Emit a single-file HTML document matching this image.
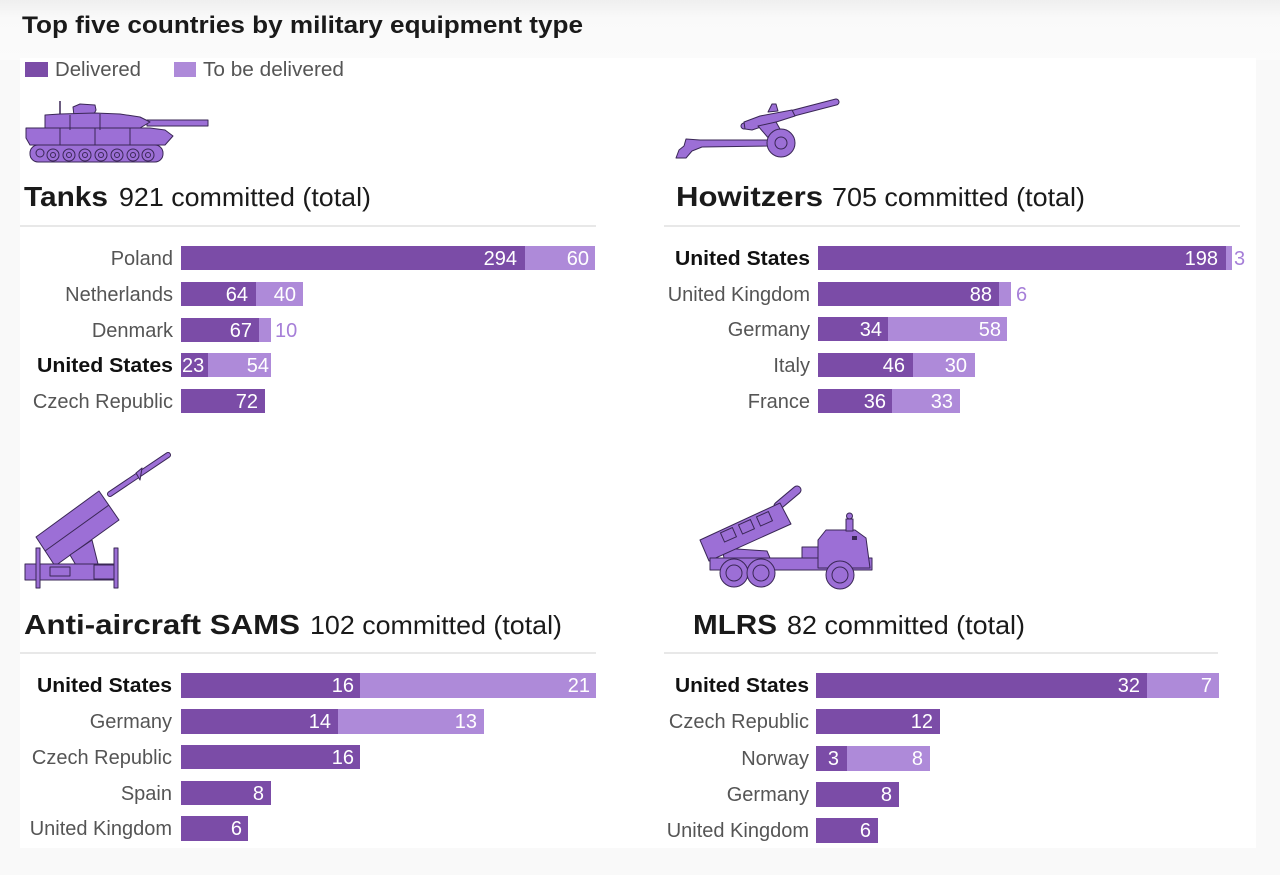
<!DOCTYPE html>
<html>
<head>
<meta charset="utf-8">
<style>
html,body{margin:0;padding:0;background:#f9f9f9;}
svg{display:block;}
text{font-family:"Liberation Sans",Arial,sans-serif;}
.lbl{font-size:20px;fill:#555;text-anchor:end;}
.lblb{font-size:20px;font-weight:bold;fill:#111;text-anchor:end;}
.v{font-size:20px;fill:#fff;text-anchor:end;}
.vo{font-size:20px;fill:#a67fd8;}
.h1{font-size:28px;font-weight:bold;fill:#1a1a1a;}
.h2{font-size:26px;fill:#1a1a1a;}
.d{fill:#7b4ca7;}
.l{fill:#ae8ad9;}
.ic{fill:#9c6fd6;stroke:#3a2756;stroke-width:1;stroke-linejoin:round;}
.icl{fill:none;stroke:#3a2756;stroke-width:1;}
</style>
</head>
<body>
<svg width="1280" height="875" viewBox="0 0 1280 875" xmlns="http://www.w3.org/2000/svg">
<defs>
<linearGradient id="tg" x1="0" y1="0" x2="0" y2="1">
<stop offset="0" stop-color="#efefef"/>
<stop offset="0.3" stop-color="#f9f9f9"/>
<stop offset="1" stop-color="#fbfbfb"/>
</linearGradient>
</defs>
<rect x="0" y="0" width="1280" height="875" fill="#f9f9f9"/>
<rect x="0" y="0" width="1280" height="60" fill="url(#tg)"/>
<rect x="20" y="58" width="1236" height="790" fill="#ffffff"/>

<!-- Title -->
<text x="22" y="33" font-size="24" font-weight="bold" fill="#1a1a1a" textLength="561" lengthAdjust="spacingAndGlyphs">Top five countries by military equipment type</text>

<!-- Legend -->
<rect x="25" y="62" width="23" height="15" class="d"/>
<text x="55" y="76" font-size="20" fill="#555" textLength="86" lengthAdjust="spacingAndGlyphs">Delivered</text>
<rect x="174" y="62" width="22" height="15" class="l"/>
<text x="203" y="76" font-size="20" fill="#555" textLength="141" lengthAdjust="spacingAndGlyphs">To be delivered</text>

<!-- ===== TANK ICON ===== -->
<g>
<line x1="60" y1="101" x2="60" y2="118" stroke="#3a2756" stroke-width="1.5"/>
<rect x="147" y="120" width="61" height="6" class="ic"/>
<polygon class="ic" points="73,107 80,104 95,105 96,110 93,116 74,116"/>
<polygon class="ic" points="45,115 60,114 95,113 120,114 140,117 150,122 140,128 125,130 45,130"/>
<polygon class="ic" points="26,128 150,128 165,130 173,136 165,145 30,145 26,138"/>
<rect x="30" y="145" width="133" height="17" rx="8" class="ic"/>
<g class="ic">
<circle cx="40" cy="153" r="4"/>
<circle cx="53" cy="155" r="6"/>
<circle cx="69" cy="155" r="6"/>
<circle cx="85" cy="155" r="6"/>
<circle cx="101" cy="155" r="6"/>
<circle cx="117" cy="155" r="6"/>
<circle cx="133" cy="155" r="6"/>
<circle cx="148" cy="155" r="6"/>
</g>
<g class="icl">
<circle cx="53" cy="155" r="2.5"/><circle cx="69" cy="155" r="2.5"/><circle cx="85" cy="155" r="2.5"/><circle cx="101" cy="155" r="2.5"/><circle cx="117" cy="155" r="2.5"/><circle cx="133" cy="155" r="2.5"/><circle cx="148" cy="155" r="2.5"/>
<line x1="70" y1="115" x2="70" y2="130"/><line x1="100" y1="114" x2="100" y2="130"/>
<line x1="60" y1="128" x2="60" y2="145"/><line x1="95" y1="128" x2="95" y2="145"/><line x1="130" y1="128" x2="130" y2="145"/>
</g>
</g>

<!-- Tanks heading -->
<text x="24" y="206" class="h1" textLength="84" lengthAdjust="spacingAndGlyphs">Tanks</text>
<text x="119" y="206" class="h2" textLength="252" lengthAdjust="spacingAndGlyphs">921 committed (total)</text>
<rect x="20" y="225" width="576" height="2" fill="#e8e8e8"/>

<!-- Tanks bars -->
<text x="173" y="265" class="lbl">Poland</text>
<rect x="181" y="246" width="344" height="24" class="d"/><rect x="525" y="246" width="70" height="24" class="l"/>
<text x="517" y="265" class="v">294</text><text x="589" y="265" class="v">60</text>

<text x="173" y="301" class="lbl">Netherlands</text>
<rect x="181" y="282" width="75" height="24" class="d"/><rect x="256" y="282" width="47" height="24" class="l"/>
<text x="248" y="301" class="v">64</text><text x="296" y="301" class="v">40</text>

<text x="173" y="337" class="lbl">Denmark</text>
<rect x="181" y="318" width="78" height="24" class="d"/><rect x="259" y="318" width="12" height="24" class="l"/>
<text x="252" y="337" class="v">67</text><text x="275" y="337" class="vo">10</text>

<text x="173" y="372" class="lblb" textLength="136" lengthAdjust="spacingAndGlyphs">United States</text>
<rect x="181" y="353" width="27" height="24" class="d"/><rect x="208" y="353" width="63" height="24" class="l"/>
<text x="182" y="372" class="v" style="text-anchor:start">23</text><text x="269" y="372" class="v">54</text>

<text x="173" y="408" class="lbl">Czech Republic</text>
<rect x="181" y="389" width="84" height="24" class="d"/>
<text x="258" y="408" class="v">72</text>

<!-- ===== HOWITZER ICON ===== -->
<g>
<polygon class="ic" points="676,158 679,150 684,146 686,139 700,140 768,140 768,146 702,147 692,151 686,158"/>
<line x1="744" y1="126" x2="836" y2="102" stroke="#3a2756" stroke-width="7" stroke-linecap="round"/>
<line x1="744" y1="126" x2="836" y2="102" stroke="#9c6fd6" stroke-width="5" stroke-linecap="round"/>
<polygon class="ic" points="744,122 760,116 792,110 795,116 770,124 752,130 745,129"/>
<polygon class="ic" points="768,112 772,104 776,104 778,111"/>
<polygon class="ic" points="758,126 776,122 784,136 770,140"/>
<circle cx="781" cy="143" r="14" class="ic"/>
<circle cx="781" cy="143" r="6" class="icl"/>
</g>

<!-- Howitzers heading -->
<text x="676" y="206" class="h1" textLength="147" lengthAdjust="spacingAndGlyphs">Howitzers</text>
<text x="832" y="206" class="h2" textLength="253" lengthAdjust="spacingAndGlyphs">705 committed (total)</text>
<rect x="664" y="225" width="576" height="2" fill="#e8e8e8"/>

<!-- Howitzers bars -->
<text x="810" y="265" class="lblb" textLength="135" lengthAdjust="spacingAndGlyphs">United States</text>
<rect x="818" y="246" width="408" height="24" class="d"/><rect x="1226" y="246" width="6" height="24" class="l"/>
<text x="1218" y="265" class="v">198</text><text x="1234" y="265" class="vo">3</text>

<text x="810" y="301" class="lbl">United Kingdom</text>
<rect x="818" y="282" width="181" height="24" class="d"/><rect x="999" y="282" width="12" height="24" class="l"/>
<text x="992" y="301" class="v">88</text><text x="1016" y="301" class="vo">6</text>

<text x="810" y="336" class="lbl">Germany</text>
<rect x="818" y="317" width="70" height="24" class="d"/><rect x="888" y="317" width="119" height="24" class="l"/>
<text x="882" y="336" class="v">34</text><text x="1001" y="336" class="v">58</text>

<text x="810" y="372" class="lbl">Italy</text>
<rect x="818" y="353" width="95" height="24" class="d"/><rect x="913" y="353" width="62" height="24" class="l"/>
<text x="905" y="372" class="v">46</text><text x="967" y="372" class="v">30</text>

<text x="810" y="408" class="lbl">France</text>
<rect x="818" y="389" width="74" height="24" class="d"/><rect x="892" y="389" width="68" height="24" class="l"/>
<text x="886" y="408" class="v">36</text><text x="953" y="408" class="v">33</text>

<!-- ===== SAM ICON ===== -->
<g>
<line x1="110" y1="494" x2="168" y2="455" stroke="#3a2756" stroke-width="6" stroke-linecap="round"/>
<line x1="110" y1="494" x2="168" y2="455" stroke="#9c6fd6" stroke-width="4" stroke-linecap="round"/>
<polygon class="ic" points="136,473 142,468 140,480"/>
<polygon class="ic" points="36,537 99,491 119,520 55,566"/>
<line x1="45" y1="551" x2="109" y2="505" stroke="#3a2756" stroke-width="1"/>
<polygon class="ic" points="70,555 92,540 100,572 80,572"/>
<rect x="25" y="564" width="93" height="16" class="ic"/>
<rect x="50" y="567" width="20" height="9" class="ic"/>
<rect x="94" y="565" width="20" height="14" class="ic"/>
<rect x="36" y="548" width="4" height="40" class="ic"/>
<rect x="114" y="548" width="4" height="40" class="ic"/>
</g>

<!-- SAMS heading -->
<text x="24" y="634" class="h1" textLength="276" lengthAdjust="spacingAndGlyphs">Anti-aircraft SAMS</text>
<text x="310" y="634" class="h2" textLength="252" lengthAdjust="spacingAndGlyphs">102 committed (total)</text>
<rect x="20" y="652" width="576" height="2" fill="#e8e8e8"/>

<!-- SAMS bars -->
<text x="172" y="692" class="lblb" textLength="135" lengthAdjust="spacingAndGlyphs">United States</text>
<rect x="181" y="673" width="179" height="25" class="d"/><rect x="360" y="673" width="236" height="25" class="l"/>
<text x="354" y="692" class="v">16</text><text x="590" y="692" class="v">21</text>

<text x="172" y="728" class="lbl">Germany</text>
<rect x="181" y="709" width="157" height="25" class="d"/><rect x="338" y="709" width="146" height="25" class="l"/>
<text x="331" y="728" class="v">14</text><text x="477" y="728" class="v">13</text>

<text x="172" y="764" class="lbl">Czech Republic</text>
<rect x="181" y="745" width="179" height="24" class="d"/>
<text x="354" y="764" class="v">16</text>

<text x="172" y="800" class="lbl">Spain</text>
<rect x="181" y="781" width="90" height="24" class="d"/>
<text x="264" y="800" class="v">8</text>

<text x="172" y="835" class="lbl">United Kingdom</text>
<rect x="181" y="816" width="67" height="25" class="d"/>
<text x="242" y="835" class="v">6</text>

<!-- ===== MLRS ICON ===== -->
<g>
<polygon class="ic" points="722,548 767,551 770,558 724,558"/>
<line x1="778" y1="506" x2="797" y2="490" stroke="#3a2756" stroke-width="9" stroke-linecap="round"/>
<line x1="778" y1="506" x2="797" y2="490" stroke="#9c6fd6" stroke-width="7" stroke-linecap="round"/>
<polygon class="ic" points="700,540 780,503 791,524 709,561"/>
<g class="icl">
<rect x="722" y="530" width="13" height="10" transform="rotate(-24 728 535)"/>
<rect x="740" y="522" width="13" height="10" transform="rotate(-24 746 527)"/>
<rect x="758" y="514" width="13" height="10" transform="rotate(-24 764 519)"/>
</g>
<rect x="710" y="558" width="162" height="12" class="ic"/>
<polygon class="ic" points="818,540 826,530 855,530 866,538 870,568 818,568"/>
<rect x="802" y="547" width="16" height="11" class="ic"/>
<rect x="852" y="536" width="5" height="4" fill="#3a2756"/>
<rect x="846" y="519" width="7" height="12" class="ic"/>
<circle cx="849.5" cy="516" r="3" class="ic"/>
<circle cx="734" cy="573" r="14" class="ic"/>
<circle cx="761" cy="573" r="14" class="ic"/>
<circle cx="840" cy="575" r="14" class="ic"/>
<g class="icl">
<circle cx="734" cy="573" r="8"/><circle cx="761" cy="573" r="8"/><circle cx="840" cy="575" r="8"/>
</g>
</g>

<!-- MLRS heading -->
<text x="693" y="634" class="h1" textLength="84" lengthAdjust="spacingAndGlyphs">MLRS</text>
<text x="787" y="634" class="h2" textLength="238" lengthAdjust="spacingAndGlyphs">82 committed (total)</text>
<rect x="664" y="652" width="554" height="2" fill="#e8e8e8"/>

<!-- MLRS bars -->
<text x="809" y="692" class="lblb" textLength="134" lengthAdjust="spacingAndGlyphs">United States</text>
<rect x="816" y="673" width="331" height="25" class="d"/><rect x="1147" y="673" width="72" height="25" class="l"/>
<text x="1140" y="692" class="v">32</text><text x="1212" y="692" class="v">7</text>

<text x="809" y="728" class="lbl">Czech Republic</text>
<rect x="816" y="709" width="124" height="25" class="d"/>
<text x="933" y="728" class="v">12</text>

<text x="809" y="765" class="lbl">Norway</text>
<rect x="816" y="746" width="31" height="25" class="d"/><rect x="847" y="746" width="83" height="25" class="l"/>
<text x="839" y="765" class="v">3</text><text x="923" y="765" class="v">8</text>

<text x="809" y="801" class="lbl">Germany</text>
<rect x="816" y="782" width="83" height="25" class="d"/>
<text x="892" y="801" class="v">8</text>

<text x="809" y="837" class="lbl">United Kingdom</text>
<rect x="816" y="818" width="62" height="25" class="d"/>
<text x="871" y="837" class="v">6</text>
</svg>
</body>
</html>
